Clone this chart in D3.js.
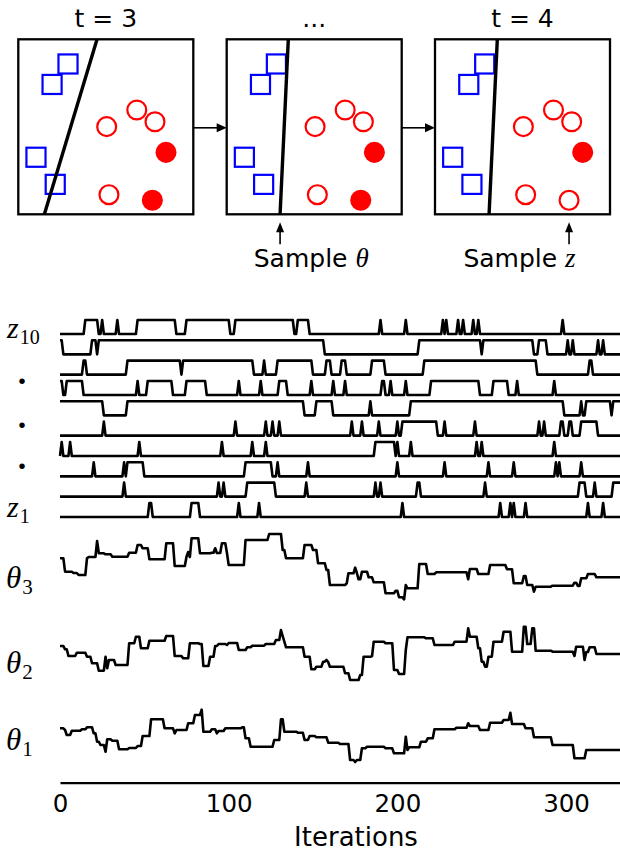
<!DOCTYPE html>
<html>
<head>
<meta charset="utf-8">
<script src="https://cdnjs.cloudflare.com/ajax/libs/d3/7.8.5/d3.min.js"></script>
<style>
  body { margin: 0; background: #fff; }
  text { font-family: "DejaVu Sans", sans-serif; fill: #000; }
  .math { font-family: "Liberation Serif", serif; font-style: italic; }
</style>
</head>
<body>
<div id="chart"></div>
<script>
var svgWidth = 620;
var svgHeight = 852;

// ---- top: three snapshots of the sampler ----
var panelTitles = ["t = 3", "...", "t = 4"];
var squareX = [0.284, 0.193, 0.101, 0.211];
var squareY = [0.859, 0.742, 0.326, 0.171];
var circleX = [0.505, 0.677, 0.781, 0.844, 0.518, 0.766];
var circleY = [0.501, 0.596, 0.529, 0.354, 0.112, 0.080];
var circleFilled = [[0, 0, 0, 1, 0, 1], [0, 0, 0, 1, 0, 1], [0, 0, 0, 1, 0, 0]];
var boundaryTop = [0.45, 0.352, 0.356];
var boundaryBottom = [0.149, 0.305, 0.309];
var sampleNotes = [null, "θ", "z"];

// ---- bottom: traces over iterations ----
var lastIter = 332;
var xTicks = [0, 100, 200, 300];

// iterations where each z is 1, [from, to] or [single]
var z1 = [[53,54],[78,82],[106],[118],[203],[261],[267],[269],[276],[313],[322]];
var z2 = [[38],[94],[97],[111,127],[146],[187],[190],[212,213],[252],[308,311],[317],[328,332]];
var z3 = [[20],[38],[40,49],[110,125],[129],[147],[200],[228],[254],[269],[294],[296],[309]];
var z4 = [[1],[6],[47],[96],[114],[122],[187,198],[200],[208],[247],[250],[293]];
var z5 = [[26],[104],[122],[126],[130],[173],[179],[189],[200],[203,223],[228],[246],[284],[287],[297,298],[302,303],[309,318]];
var z6 = [[0,25],[40,144],[152,161],[184],[208,298],[309],[312,326],[328,332]];
var z7 = [[0,1],[4,13],[46],[52,66],[75,86],[106],[119],[130,134],[149],[162],[169],[191,192],[196],[205],[220,248],[257,265],[271],[293]];
var z8 = [[14,15],[40,71],[73,114],[121],[129,149],[158,160],[167,169],[185,192],[216,282],[314,315]];
var z9 = [[0,1],[19,21],[23,156],[213,249],[251,280],[284,288],[301],[304],[319],[322]];
var z10 = [[15,22],[25],[34],[46,68],[75,100],[104,138],[141,147],[190],[205],[227],[229],[236],[239],[245],[248],[298]];

// theta values as [iteration, value] whenever the value changes
var theta3 = [[0,41.7],[3,28.3],[8,27],[11,25],[16,41.7],[17,43],[22,59],[23,46.7],[27,45.7],[31,43.3],[41,47.3],[46,55],[49,51.7],[53,40.7],[63,56.7],[68,34],[75,43.3],[76,48],[77,43],[78,61.7],[83,46.7],[90,47.3],[92,51.7],[93,47],[96,56.7],[99,46.7],[100,35],[110,60],[124,66],[132,50],[134,41.7],[145,55],[150,50],[153,36.7],[158,30],[160,15],[170,16.7],[171,26.7],[175,32.3],[176,27],[177,20.7],[179,28.3],[183,22.7],[186,17.7],[193,6.7],[199,9.3],[201,2.7],[204,0.7],[205,15],[206,11.7],[213,36],[218,26],[223,27.7],[242,20.7],[243,31],[248,26],[255,35],[265,30.7],[269,16.7],[275,24],[277,15],[281,8.3],[282,13.3],[292,14.3],[305,17.3],[307,14],[309,21.7],[313,26],[318,22.7]];
var theta2 = [[0,36],[3,32.7],[5,26],[10,29.3],[16,25.3],[19,18.7],[23,11.3],[27,25.3],[28,13.7],[29,22],[33,17],[41,38.7],[45,45.3],[48,33.7],[53,41.3],[63,46],[68,26],[73,23.7],[77,38.7],[83,38],[85,16],[89,25.3],[92,36],[94,38],[99,37],[100,39],[106,32],[111,34.7],[114,36.3],[122,38],[128,42],[131,52],[132,46],[133,40.3],[134,34.7],[145,25.3],[149,12.7],[152,15.3],[156,20.3],[158,22],[159,20],[160,15.3],[169,8.7],[172,2],[178,7],[180,25.3],[185,26],[186,40.3],[193,38.7],[198,12],[201,8],[205,32],[206,44.7],[217,43.7],[222,37],[234,40.3],[242,53.7],[243,45.3],[248,33.7],[250,20.3],[252,15.3],[254,25.3],[257,40.3],[263,50.3],[268,30.3],[275,55.3],[277,38],[280,53.7],[282,31.3],[292,30.3],[305,26],[306,35.3],[311,22],[312,30],[314,34.7],[318,28]];
var theta1 = [[0,34.7],[3,33],[4,28],[7,32.3],[13,33.7],[16,35.7],[20,29.7],[22,21.3],[24,18],[27,11.3],[28,23.7],[31,22.3],[35,13.7],[41,15],[46,17],[49,27],[54,43.7],[62,34.7],[68,29.7],[69,33],[76,39.7],[80,48],[84,53.3],[85,31.3],[90,33.7],[93,29.7],[94,32],[98,34.7],[108,35.7],[110,24.7],[113,16.3],[127,23],[131,43.7],[133,31.3],[141,30.3],[145,23],[148,27],[152,25.7],[159,20.3],[166,19],[172,3],[175,1],[176,3],[179,14.7],[182,16.3],[193,14.7],[198,9.7],[205,26.3],[206,13],[207,15.7],[214,21.3],[218,24.7],[222,33.7],[235,35.3],[242,39.7],[243,37],[249,33],[255,40.3],[263,43],[267,50.3],[268,39],[276,34.7],[281,25.7],[292,18],[305,4.7],[312,13]];

var zTraces = [z1, z2, z3, z4, z5, z6, z7, z8, z9, z10];
var thetaTraces = [theta1, theta2, theta3];

var svg = d3.select("#chart")
  .append("svg")
  .attr("width", svgWidth)
  .attr("height", svgHeight);

// ================= top panels =================
var panelLeft = [18.3, 226.7, 435],
    panelTop = 39.3,
    panelSize = 175;

panelLeft.forEach(function(left, p) {
  var px = d3.scaleLinear().domain([0, 1]).range([left, left + panelSize]);
  var py = d3.scaleLinear().domain([0, 1]).range([panelTop + panelSize, panelTop]);
  var g = svg.append("g");

  g.append("text")
    .attr("x", px(0.5))
    .attr("y", 27)
    .attr("text-anchor", "middle")
    .attr("font-size", "25px")
    .text(panelTitles[p]);

  g.append("rect")
    .attr("x", px(0)).attr("y", py(1))
    .attr("width", panelSize).attr("height", panelSize)
    .attr("fill", "none").attr("stroke", "#000").attr("stroke-width", 2.3);

  var side = px(0.109) - px(0);
  g.selectAll(".sq")
    .data(squareX)
    .enter()
    .append("rect")
    .attr("x", (d, i) => px(d) - side / 2)
    .attr("y", (d, i) => py(squareY[i]) - side / 2)
    .attr("width", side).attr("height", side)
    .attr("fill", "none").attr("stroke", "#0000ff").attr("stroke-width", 2.2);

  g.selectAll(".ci")
    .data(circleX)
    .enter()
    .append("circle")
    .attr("cx", d => px(d))
    .attr("cy", (d, i) => py(circleY[i]))
    .attr("r", px(0.054) - px(0))
    .attr("fill", (d, i) => circleFilled[p][i] ? "#ff0000" : "none")
    .attr("stroke", "#ff0000").attr("stroke-width", 2.2);

  g.append("line")
    .attr("x1", px(boundaryTop[p])).attr("y1", py(1))
    .attr("x2", px(boundaryBottom[p])).attr("y2", py(0))
    .attr("stroke", "#000").attr("stroke-width", 3.4);

  // arrow into next panel
  if (p < panelLeft.length - 1) {
    var ay = py(0.5) + 1, ax1 = px(1), ax2 = panelLeft[p + 1];
    g.append("line")
      .attr("x1", ax1).attr("y1", ay).attr("x2", ax2 - 6).attr("y2", ay)
      .attr("stroke", "#000").attr("stroke-width", 1.6);
    g.append("path")
      .attr("d", `M${ax2},${ay} L${ax2 - 10},${ay - 4.5} L${ax2 - 10},${ay + 4.5} Z`)
      .attr("fill", "#000");
  }

  // "Sample ..." note with an arrow pointing up at what changed
  if (sampleNotes[p]) {
    var target = p === 1 ? px(boundaryBottom[p]) : px(circleX[5]);
    var tipY = py(0) + 8;
    g.append("line")
      .attr("x1", target).attr("y1", tipY + 6).attr("x2", target).attr("y2", tipY + 22)
      .attr("stroke", "#000").attr("stroke-width", 1.6);
    g.append("path")
      .attr("d", `M${target},${tipY} L${target - 4},${tipY + 10} L${target + 4},${tipY + 10} Z`)
      .attr("fill", "#000");
    var note = g.append("text")
      .attr("x", px(0.5) - 3)
      .attr("y", 267)
      .attr("text-anchor", "middle")
      .attr("font-size", "25px")
      .text("Sample ");
    note.append("tspan")
      .attr("class", "math")
      .attr("font-size", "27px")
      .text(sampleNotes[p]);
  }
});

// ================= traces =================
var xScale = d3.scaleLinear().domain([0, lastIter]).range([60, 620]);
var zRow = d3.scaleLinear().domain([0, 9]).range([517, 334]);
var thetaBase = [763, 682, 600];

function binaryPoints(intervals) {
  var pts = [];
  if (intervals[0][0] > 0) pts.push([0, 0]);
  intervals.forEach(function(iv) {
    var a = iv[0], b = iv.length > 1 ? iv[1] : iv[0];
    if (a > 0) pts.push([a - 1, 0]);
    pts.push([a, 1], [b, 1]);
    if (b < lastIter) pts.push([b + 1, 0]);
  });
  var last = pts[pts.length - 1];
  if (last[0] < lastIter) pts.push([lastIter, last[1]]);
  return pts;
}

function stepPoints(runs) {
  var pts = [];
  runs.forEach(function(r, i) {
    pts.push(r);
    var end = i < runs.length - 1 ? runs[i + 1][0] - 1 : lastIter;
    if (end > r[0]) pts.push([end, r[1]]);
  });
  return pts;
}

var traceGroup = svg.append("g")
  .attr("fill", "none")
  .attr("stroke", "#000")
  .attr("stroke-width", 2.6)
  .attr("stroke-linejoin", "round");

zTraces.forEach(function(tr, k) {
  var line = d3.line()
    .x(d => xScale(d[0]))
    .y(d => zRow(k + 0.69 * d[1]));
  traceGroup.append("path").attr("d", line(binaryPoints(tr)));
});

thetaTraces.forEach(function(tr, k) {
  var yScale = d3.scaleLinear().domain([0, 100]).range([thetaBase[k], thetaBase[k] - 100]);
  var line = d3.line()
    .x(d => xScale(d[0]))
    .y(d => yScale(d[1]));
  traceGroup.append("path").attr("d", line(stepPoints(tr)));
});

// labels on the left
function mathLabel(sym, sub, x, y, size) {
  var t = svg.append("text").attr("class", "math").attr("x", x).attr("y", y)
    .attr("font-size", size + "px").text(sym);
  t.append("tspan")
    .attr("font-style", "normal")
    .attr("font-size", Math.round(size * 0.68) + "px")
    .attr("dx", 1)
    .attr("dy", 6)
    .text(sub);
}
mathLabel("z", "10", 7, 338, 30);
mathLabel("z", "1", 7, 517, 30);
[380, 424, 465].forEach(function(y) {
  svg.append("text").attr("class", "math").attr("x", 19).attr("y", y + 4)
    .attr("font-size", "34px").attr("font-weight", "bold").attr("font-style", "normal").text(".");
});
mathLabel("θ", "3", 6, 588, 31);
mathLabel("θ", "2", 6, 673, 31);
mathLabel("θ", "1", 6, 750, 31);

// x axis
var xAxis = svg.append("g")
  .attr("transform", "translate(0,782.7)")
  .call(d3.axisBottom(xScale).tickValues(xTicks).tickSize(0).tickSizeOuter(0).tickPadding(12));
xAxis.select(".domain").attr("stroke-width", 2.3);
xAxis.selectAll("text")
  .attr("font-family", "DejaVu Sans")
  .attr("font-size", "24.5px")
  .attr("fill", "#000");

svg.append("text")
  .attr("x", 356)
  .attr("y", 846)
  .attr("text-anchor", "middle")
  .attr("font-size", "26px")
  .text("Iterations");
</script>
</body>
</html>
